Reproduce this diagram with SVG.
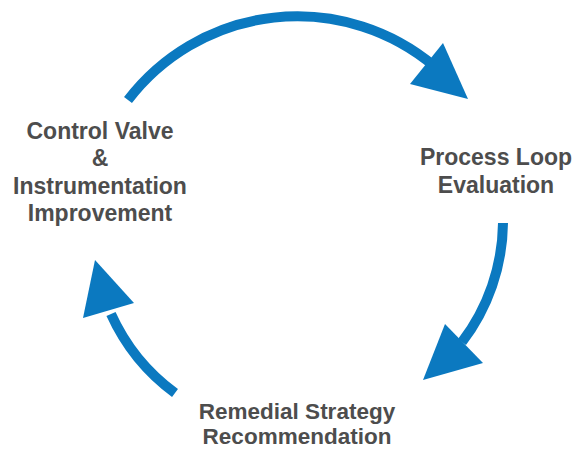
<svg xmlns="http://www.w3.org/2000/svg" width="576" height="453" viewBox="0 0 576 453">
<style>
.lbl{font-family:"Liberation Sans",Arial,Helvetica,sans-serif;font-weight:bold;font-size:23px;fill:#4d4d4d;text-anchor:middle}
.sm{font-size:22.5px}
.shaft{fill:none;stroke:#0b79c0;stroke-width:10}
.head{fill:#0b79c0}
</style>
<rect width="576" height="453" fill="#ffffff"/>
<g id="connectors">
<path class="shaft" d="M128,100 A213,213 0 0 1 434,66"/>
<polygon class="head" points="468,99 443,43 410,84"/>
<path class="shaft" d="M503,223 A200,200 0 0 1 462,342"/>
<polygon class="head" points="423,380 445,324 483,363"/>
<path class="shaft" d="M175,393 A200,200 0 0 1 111,314"/>
<polygon class="head" points="95,260 83,318 134,303"/>
</g>
<g id="node-control-valve">
<text class="lbl" x="100" y="139">Control Valve</text>
<text class="lbl" x="100" y="166">&amp;</text>
<text class="lbl" x="100" y="194">Instrumentation</text>
<text class="lbl" x="100" y="221">Improvement</text>
</g>
<g id="node-process-loop">
<text class="lbl" x="496" y="165">Process Loop</text>
<text class="lbl" x="496" y="193">Evaluation</text>
</g>
<g id="node-remedial">
<text class="lbl sm" x="297" y="419">Remedial Strategy</text>
<text class="lbl sm" x="297" y="444">Recommendation</text>
</g>
</svg>
